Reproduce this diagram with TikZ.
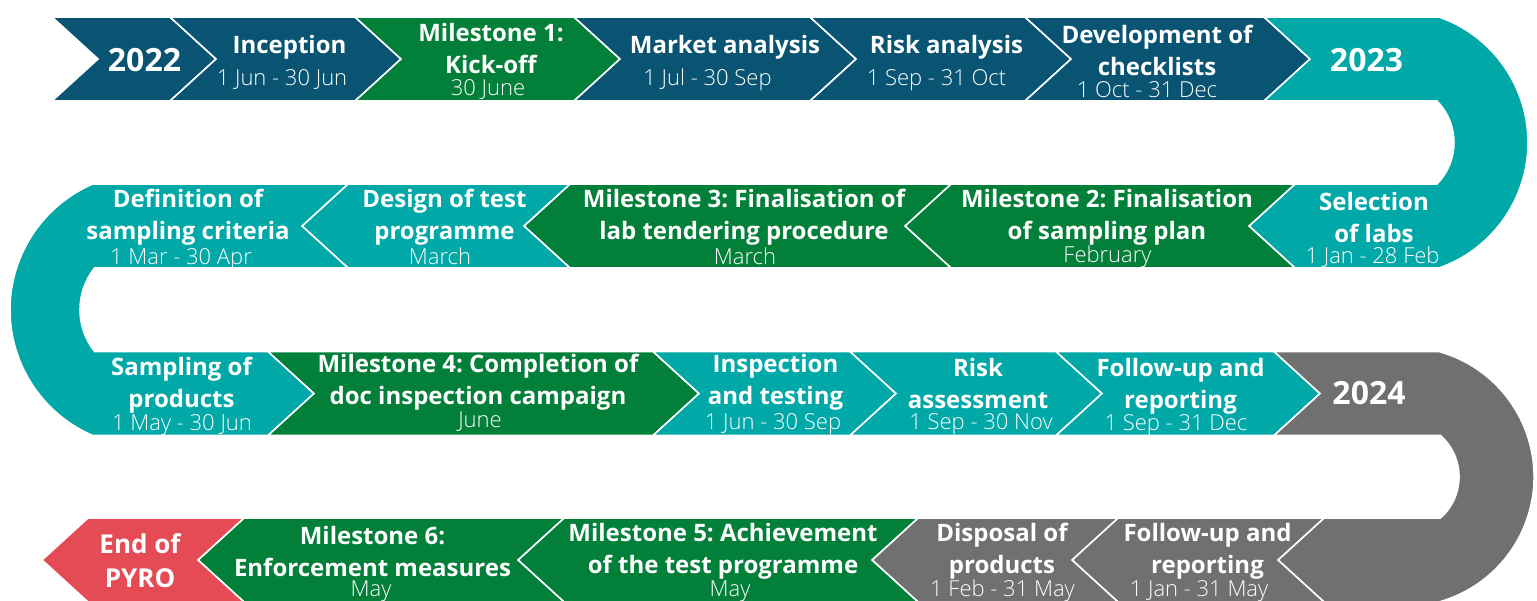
\documentclass[tikz,border=0pt]{standalone}
\usepackage{fontspec}
\setmainfont{Open Sans}
\newfontfamily\lightf{Open Sans Light}
\frenchspacing
\definecolor{cblue}{RGB}{10,84,115}
\definecolor{cgreen}{RGB}{2,127,57}
\definecolor{cteal}{RGB}{0,168,168}
\definecolor{cgray}{RGB}{112,112,112}
\definecolor{cred}{RGB}{228,75,85}
\tikzset{
  seg/.style={draw=white, line width=1.6pt, line join=miter},
  ttl/.style={text=white, font=\fontsize{24}{32}\selectfont\bfseries\frenchspacing, align=center, inner sep=0pt, yshift=-2.5pt},
  dte/.style={text=white, font=\fontsize{22}{26}\selectfont\lightf, inner sep=0pt, yshift=-2pt},
  yr/.style={text=white, font=\fontsize{32}{38}\selectfont\bfseries, inner sep=0pt},
  endl/.style={text=white, font=\fontsize{26}{34}\selectfont\bfseries, align=center, inner sep=0pt},
}
% rightward chevron: #1 left x, #2 right x, #3 top, #4 mid, #5 bottom, #6 colour
\newcommand\rchev[6]{\path[fill=#6, seg] (#1,#3) -- (#2,#3) -- ({#2+46},#4) -- (#2,#5) -- (#1,#5) -- ({#1+46},#4) -- cycle;}
% leftward chevron: #1 left tip x, #2 right notch tip x
\newcommand\lchev[6]{\path[fill=#6, seg] (#1,#4) -- ({#1+46},#3) -- ({#2+46},#3) -- (#2,#4) -- ({#2+46},#5) -- ({#1+46},#5) -- cycle;}
\begin{document}
\begin{tikzpicture}[x=1pt, y=-1pt]
\useasboundingbox (0,0) rectangle (1537,601);
% ---------- row 1 ----------
\rchev{52}{170}{17}{59}{101}{cblue}
\rchev{170}{355}{17}{59}{101}{cblue}
\rchev{355}{574}{17}{59}{101}{cgreen}
\rchev{574}{810}{17}{59}{101}{cblue}
\rchev{810}{1025}{17}{59}{101}{cblue}
\rchev{1025}{1264}{17}{59}{101}{cblue}
% 2023 + bend + selection of labs
\path[fill=cteal, seg] (1264,17) -- (1439,17) arc[start angle=-70.67, end angle=70.67, radius=133]
  -- (1295,268) -- (1249,226) -- (1295,184) -- (1436.9,184)
  arc[start angle=44.70, end angle=-44.70, radius=59] -- (1264,101) -- (1310,59) -- cycle;
% ---------- row 2 ----------
\lchev{905}{1249}{184}{226}{268}{cgreen}
\lchev{524}{905}{184}{226}{268}{cgreen}
\lchev{302}{524}{184}{226}{268}{cteal}
% definition + bend + sampling
\path[fill=cteal, seg] (348,184) -- (302,226) -- (348,268) -- (94.6,268)
  arc[start angle=218.55, end angle=141.45, radius=67] -- (268,351.5) -- (314,393.5) -- (268,435.5)
  -- (92.6,435.5) arc[start angle=113.4, end angle=246.6, radius=137] -- cycle;
% ---------- row 3 ----------
\rchev{268}{653}{351.5}{393.5}{435.5}{cgreen}
\rchev{653}{850}{351.5}{393.5}{435.5}{cteal}
\rchev{850}{1056}{351.5}{393.5}{435.5}{cteal}
\rchev{1056}{1274}{351.5}{393.5}{435.5}{cteal}
% 2024 + bend + follow-up
\path[fill=cgray, seg] (1274,351.5) -- (1438.8,351.5) arc[start angle=-74.5, end angle=74.5, radius=130]
  -- (1324,602) -- (1278,560) -- (1324,518) -- (1440.4,518)
  arc[start angle=48.59, end angle=-48.59, radius=55] -- (1274,435.5) -- (1320,393.5) -- cycle;
% ---------- row 4 ----------
\lchev{1072}{1278}{518}{560}{602}{cgray}
\lchev{872}{1072}{518}{560}{602}{cgray}
\lchev{518}{872}{518}{560}{602}{cgreen}
\lchev{198}{518}{518}{560}{602}{cgreen}
\lchev{42}{198}{518}{560}{602}{cred}
% ---------- texts row 1 ----------
\node[yr] (y22) at (144.5,60) {2022};
\node[ttl] (t1) at (289.5,45) {Inception};
\node[dte] (d1) at (282,78) {1 Jun - 30 Jun};
\node[ttl] (t2) at (491,46) {Milestone 1:\\Kick-off};
\node[dte] (d2) at (488,88) {30 June};
\node[ttl] (t3) at (725,45) {Market analysis};
\node[dte] (d3) at (707.5,78) {1 Jul - 30 Sep};
\node[ttl] (t4) at (946.5,45) {Risk analysis};
\node[dte] (d4) at (936.5,78) {1 Sep - 31 Oct};
\node[ttl] (t5) at (1157,48) {Development of\\checklists};
\node[dte] (d5) at (1147,88) {1 Oct - 31 Dec};
\node[yr] (y23) at (1366.5,60) {2023};
% ---------- texts row 2 ----------
\node[ttl] (t6) at (1374,215) {Selection\\of labs};
\node[dte] (d6) at (1372.5,255) {1 Jan - 28 Feb};
\node[ttl] (t7) at (1107,215) {Milestone 2: Finalisation\\of sampling plan};
\node[dte] (d7) at (1107.5,255) {February};
\node[ttl] (t8) at (744,215) {Milestone 3: Finalisation of\\lab tendering procedure};
\node[dte] (d8) at (745,254) {March};
\node[ttl] (t9) at (444.5,215) {Design of test\\programme};
\node[dte] (d9) at (440,254) {March};
\node[ttl] (t10) at (188,215) {Definition of\\sampling criteria};
\node[dte] (d10) at (181,257) {1 Mar - 30 Apr};
% ---------- texts row 3 ----------
\node[ttl] (t11) at (181.5,383) {Sampling of\\products};
\node[dte] (d11) at (182,423) {1 May - 30 Jun};
\node[ttl] (t12) at (478,380) {Milestone 4: Completion of\\doc inspection campaign};
\node[dte] (d12) at (480,420) {June};
\node[ttl] (t13) at (775.5,380) {Inspection\\and testing};
\node[dte] (d13) at (773,422) {1 Jun - 30 Sep};
\node[ttl] (t14) at (978,381.5) {Risk\\assessment};
\node[dte] (d14) at (981,422) {1 Sep - 30 Nov};
\node[ttl] (t15) at (1180.5,383.5) {Follow-up and\\reporting};
\node[dte] (d15) at (1176,423) {1 Sep - 31 Dec};
\node[yr] (y24) at (1369,393) {2024};
% ---------- texts row 4 ----------
\node[endl] (t16) at (140,561) {End of\\PYRO};
\node[ttl] (t17) at (372.5,549) {Milestone 6:\\Enforcement measures};
\node[dte] (d17) at (371,589) {May};
\node[ttl] (t18) at (723,549) {Milestone 5: Achievement\\of the test programme};
\node[dte] (d18) at (730,589) {May};
\node[ttl] (t19) at (1002,549) {Disposal of\\products};
\node[dte] (d19) at (1002.5,589) {1 Feb - 31 May};
\node[ttl] (t20) at (1207.5,549) {Follow-up and\\reporting};
\node[dte] (d20) at (1199,589) {1 Jan - 31 May};
\end{tikzpicture}
\end{document}
